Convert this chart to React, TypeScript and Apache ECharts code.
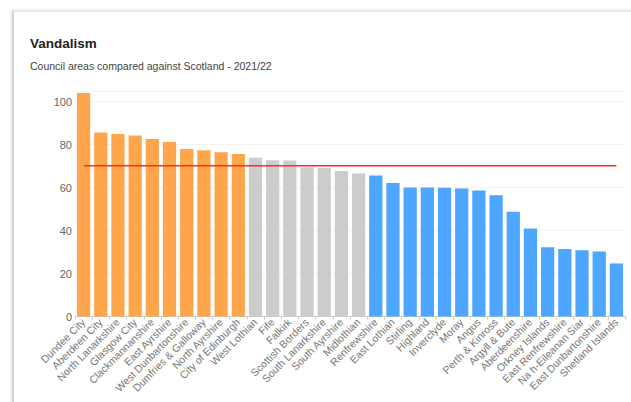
import React, { useEffect, useRef } from "react";
import * as echarts from "echarts";

const categories = [
  "Dundee City", "Aberdeen City", "North Lanarkshire", "Glasgow City", "Clackmannanshire",
  "East Ayrshire", "West Dunbartonshire", "Dumfries & Galloway", "North Ayrshire", "City of Edinburgh",
  "West Lothian", "Fife", "Falkirk", "Scottish Borders", "South Lanarkshire", "South Ayrshire",
  "Midlothian", "Renfrewshire", "East Lothian", "Stirling", "Highland", "Inverclyde", "Moray",
  "Angus", "Perth & Kinross", "Argyll & Bute", "Aberdeenshire", "Orkney Islands",
  "East Renfrewshire", "Na h-Eileanan Siar", "East Dunbartonshire", "Shetland Islands",
];

const values = [
  104.1, 85.7, 85.0, 84.3, 82.7, 81.3, 78.0, 77.4, 76.5, 75.7,
  73.9, 72.8, 72.6, 69.4, 69.2, 67.8, 66.6, 65.7, 62.2, 60.1,
  60.1, 60.0, 59.6, 58.7, 56.5, 48.8, 41.0, 32.3, 31.4, 30.8,
  30.3, 24.7,
];

// comparison group for each council area: higher / similar / lower than Scotland
const groups = [
  "high", "high", "high", "high", "high", "high", "high", "high", "high", "high",
  "similar", "similar", "similar", "similar", "similar", "similar", "similar",
  "low", "low", "low", "low", "low", "low", "low", "low", "low",
  "low", "low", "low", "low", "low", "low",
];

const scotlandValue = 70.2;
const yTicks = [0, 20, 40, 60, 80, 100];

const groupColors: Record<string, string> = {
  high: "#ffa64d",
  similar: "#cccccc",
  low: "#4da6ff",
};

export default function App() {
  const ref = useRef<HTMLDivElement>(null);
  useEffect(() => {
    if (!ref.current) return;
    const chart = echarts.init(ref.current, null, { renderer: "svg" });
    chart.setOption({
      animation: false,
      title: [
        {
          text: "Vandalism",
          left: 25,
          top: 31,
          textStyle: { fontFamily: "Liberation Sans, Arial", fontSize: 13.5, fontWeight: "bold", color: "#222" },
        },
        {
          text: "Council areas compared against Scotland - 2021/22",
          left: 25,
          top: 55,
          textStyle: { fontFamily: "Liberation Sans, Arial", fontSize: 10.5, fontWeight: "normal", color: "#444" },
        },
      ],
      grid: { left: 75, right: 6, top: 91, bottom: 85.5, containLabel: false },
      xAxis: {
        type: "category",
        data: categories,
        axisLine: { lineStyle: { color: "#cccccc", width: 1 } },
        axisTick: { show: true, length: 3, lineStyle: { color: "#cccccc" } },
        axisLabel: {
          rotate: 45,
          interval: 0,
          margin: 4,
          fontFamily: "Liberation Sans, Arial",
          fontSize: 10.5,
          color: "#777",
        },
      },
      yAxis: {
        type: "value",
        min: 0,
        max: 105,
        interval: 20,
        axisLine: { show: false },
        axisTick: { show: false },
        splitLine: { lineStyle: { color: "#f2f2f2" } },
        axisLabel: {
          showMaxLabel: false,
          margin: 3,
          fontFamily: "Liberation Sans, Arial",
          fontSize: 11,
          color: "#666",
          formatter: (v: number) => (yTicks.includes(v) ? String(v) : ""),
        },
      },
      series: [
        {
          type: "bar",
          barCategoryGap: "23%",
          data: values.map((v, i) => ({ value: v, itemStyle: { color: groupColors[groups[i]] } })),
        },
        {
          type: "line",
          data: categories.map(() => scotlandValue),
          symbol: "none",
          lineStyle: { color: "#ff2a2a", width: 1.5 },
          z: 5,
        },
      ],
    });
    return () => chart.dispose();
  }, []);
  return (
    <div style={{ position: "absolute", left: 0, top: 0, width: 631, height: 402, overflow: "hidden", background: "#fff" }}>
      <div
        style={{
          position: "absolute",
          left: 12,
          top: 11,
          width: 650,
          height: 420,
          borderLeft: "2px solid #d4d4d4",
          borderTop: "1px solid #e6e6e6",
          boxShadow: "-1px -1px 3px rgba(0,0,0,0.12)",
          background: "#fff",
        }}
      />
      <div ref={ref} style={{ position: "absolute", left: 0, top: 0, width: 631, height: 402 }} />
    </div>
  );
}
